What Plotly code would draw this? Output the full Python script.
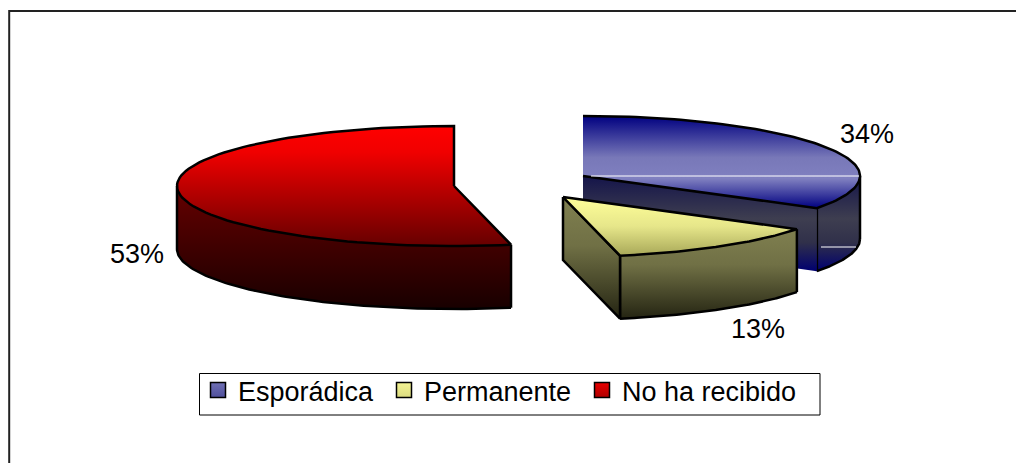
import numpy as np
import plotly.graph_objects as go

categories = ["Esporádica", "Permanente", "No ha recibido"]
values = [34.0, 12.7, 53.3]
labels = ["34%", "13%", "53%"]

W, H = 1024, 463
BODY = 8  # the page's default body margin
RX, RY, DEPTH = 277, 60, 63
apex = [(583, 176), (563, 197), (454, 186)]
label_pos = [(867, 134), (758, 329), (137, 254)]
legend_x = [198, 384, 582]

TOP = [
    [[0, "#000080"], [0.45, "#7878b8"], [0.68, "#8080c0"], [1, "#000080"]],
    [[0, "#ffff99"], [0.5, "#e6e68a"], [1, "#a8a858"]],
    [[0, "#ff0000"], [0.22, "#f00000"], [1, "#660000"]],
]
SIDE = [
    [[0, "#14144a"], [0.45, "#3e3e50"], [0.7, "#30304a"], [1, "#000070"]],
    [[0, "#808050"], [0.4, "#707045"], [1, "#242412"]],
    [[0, "#660000"], [1, "#180000"]],
]
LEG = ["#7070b4", "#f4f494", "#e80000"]
LEG_EDGE = ["#50509c", "#dcdc80", "#b00000"]
FONT = "Liberation Sans"
LINE = 2.5

fig = go.Figure()


def pt(c, deg):
    t = np.radians(deg)
    return c[0] + RX * np.sin(t), c[1] - RY * np.cos(t)


def arc(c, a, b):
    t = np.linspace(a, b, 90)
    return pt(c, t)


def poly(xs, ys, scale, y0, y1):
    fig.add_trace(go.Scatter(
        x=list(xs) + [xs[0]], y=list(ys) + [ys[0]], mode="lines", fill="toself",
        line=dict(width=0, color="rgba(0,0,0,0)"),
        fillgradient=dict(type="vertical", colorscale=scale, start=y0, stop=y1),
        showlegend=False, hoverinfo="skip"))


def stroke(xs, ys, width=LINE, color="black"):
    fig.add_trace(go.Scatter(x=list(xs), y=list(ys), mode="lines",
                             line=dict(color=color, width=width),
                             showlegend=False, hoverinfo="skip"))


def wedge(i, a, b):
    c = apex[i]
    ax, ay = arc(c, a, b)
    # outer wall: only the part of the rim turned toward the viewer
    wa, wb = max(a, 90), min(b, 270)
    wx, wy = arc(c, wa, wb)
    poly(list(wx) + list(wx[::-1]), list(wy) + list((wy + DEPTH)[::-1]), SIDE[i],
         wy.min(), wy.max() + DEPTH)
    stroke(wx, wy + DEPTH)
    stroke([wx[0], wx[0]], [wy[0], wy[0] + DEPTH])
    stroke([wx[-1], wx[-1]], [wy[-1], wy[-1] + DEPTH])
    # cut faces turned toward the viewer
    if i in (0, 1):
        ex, ey = pt(c, b)
        xs = [c[0], ex, ex, c[0]]
        ys = [c[1], ey, ey + DEPTH, c[1] + DEPTH]
        poly(xs, ys, SIDE[i], c[1], ey + DEPTH)
        if i == 1:
            stroke(xs + [xs[0]], ys + [ys[0]])
    # top
    poly([c[0]] + list(ax), [c[1]] + list(ay), TOP[i],
         min(ay.min(), c[1]), max(ay.max(), c[1]))
    if i == 0:
        stroke(list(ax) + [c[0]], list(ay) + [c[1]])
    else:
        stroke([c[0]] + list(ax) + [c[0]], [c[1]] + list(ay) + [c[1]])


start = 0.0
total = sum(values)
spans = []
for v in values:
    end = start + 360 * v / total
    spans.append((start, end))
    start = end

wedge(0, *spans[0])
# thin white artefact lines of the original picture on the blue slice
cx, cy = apex[0]
stroke([cx + 8, cx + RX - 1], [cy, cy], 1, "white")
stroke([cx + 238, cx + RX - 4], [cy + 71, cy + 71], 1, "white")
wedge(1, *spans[1])
wedge(2, *spans[2])

legend_ids = ["legend", "legend2", "legend3"]
for name, col, edge, lid in zip(categories, LEG, LEG_EDGE, legend_ids):
    fig.add_trace(go.Scatter(x=[None], y=[None], mode="markers", name=name, legend=lid,
                             marker=dict(symbol="square", size=15, color=col,
                                         gradient=dict(type="vertical", color=edge),
                                         line=dict(color="black", width=1.5))))

for (x, y), t in zip(label_pos, labels):
    fig.add_annotation(x=x, y=y, text=t, showarrow=False, xref="x", yref="y",
                       font=dict(family=FONT, size=27, color="black"))

fig.add_shape(type="rect", x0=9.2, y0=11, x1=1100, y1=520, line=dict(color="#222222", width=2))
fig.add_shape(type="rect", x0=199.5, y0=373.5, x1=820, y1=415, line=dict(color="black", width=1),
              fillcolor="white", layer="above")

legends = {
    lid: dict(orientation="h", x=(lx - BODY) / (W - BODY), y=1 - (366 - BODY) / (H - BODY),
              xanchor="left", yanchor="top", borderwidth=0, bgcolor="rgba(0,0,0,0)",
              font=dict(family=FONT, size=27, color="black"), itemsizing="trace")
    for lid, lx in zip(legend_ids, legend_x)
}

fig.update_layout(
    width=W - BODY, height=H - BODY, margin=dict(l=0, r=0, t=0, b=0), autosize=False,
    paper_bgcolor="white", plot_bgcolor="white",
    xaxis=dict(range=[BODY, W], visible=False, fixedrange=True),
    yaxis=dict(range=[H, BODY], visible=False, fixedrange=True),
    font=dict(family=FONT),
    **legends,
)
fig.write_html("out.html")
